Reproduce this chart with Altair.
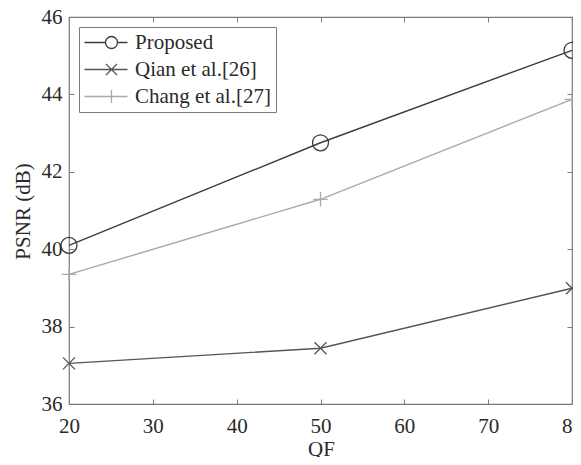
import altair as alt
import pandas as pd

qf = [20, 50, 80]
proposed = [40.10, 42.75, 45.14]
qian = [37.05, 37.44, 38.99]
chang = [39.35, 41.29, 43.87]
series_names = ["Proposed", "Qian et al.[26]", "Chang et al.[27]"]
line_colors = ["#3c3c3c", "#555555", "#a9a9a9"]
x_ticks = [20, 30, 40, 50, 60, 70, 80]
y_ticks = [36, 38, 40, 42, 44, 46]

rows = []
for name, vals in zip(series_names, [proposed, qian, chang]):
    for q, v in zip(qf, vals):
        rows.append({"QF": q, "PSNR": v, "series": name})
df = pd.DataFrame(rows)

FONT = "Liberation Serif"
FS = 21
FRAME = "#7a7a7a"
TXT = "#2a2a2a"

# marker shapes in the plot
marker_shapes = ["circle", "M-0.75,-0.75L0.75,0.75M-0.75,0.75L0.75,-0.75", "M-0.9,0L0.9,0M0,-0.9L0,0.9"]
# legend symbols (line + marker), only M/L/A commands
leg_paths = [
    "M-5.4,0L-1.2,0A1.2,1.2 0 1,1 1.2,0A1.2,1.2 0 1,1 -1.2,0M1.2,0L3.2,0",
    "M-5.4,0L3.2,0M-1.1,-1.1L1.1,1.1M-1.1,1.1L1.1,-1.1",
    "M-5.4,0L3.2,0M0,-1.3L0,1.3",
]
sig = "datum.value === '%s' ? '%s' : (datum.value === '%s' ? '%s' : '%s')" % (
    series_names[0], leg_paths[0], series_names[1], leg_paths[1], leg_paths[2])

xscale = alt.Scale(domain=[20, 80], nice=False, zero=False)
yscale = alt.Scale(domain=[36, 46], nice=False, zero=False)

common = dict(tickSize=5, offset=-5, domain=False, grid=False, labelFlush=False,
              labelFont=FONT, labelFontSize=FS, labelColor=TXT,
              titleFont=FONT, titleFontSize=FS, titleColor=TXT, titleFontWeight="normal",
              tickColor=FRAME, tickWidth=1)

lines = alt.Chart(df).mark_line(strokeWidth=1.4).encode(
    x=alt.X("QF:Q", scale=xscale, axis=alt.Axis(
        orient="bottom", values=x_ticks, labelPadding=11, title="QF",
        titleAlign="center", titleBaseline="alphabetic", titleX=252, titleY=56, **common)),
    y=alt.Y("PSNR:Q", scale=yscale, axis=alt.Axis(
        orient="left", values=y_ticks, labelPadding=7, title="PSNR (dB)",
        titleAngle=270, titleAlign="center", titleBaseline="middle", titleX=-51, titleY=194,
        **common)),
    color=alt.Color("series:N", scale=alt.Scale(domain=series_names, range=line_colors),
                    sort=series_names,
                    legend=alt.Legend(
                        orient="none", legendX=10, legendY=10, title=None,
                        strokeColor=FRAME, fillColor="white", padding=5,
                        labelFont=FONT, labelFontSize=FS, labelColor=TXT,
                        symbolSize=100, symbolStrokeWidth=1.3, symbolOffset=17,
                        labelOffset=13, rowPadding=5,
                        symbolFillColor="transparent",
                        symbolType=alt.ExprRef(expr=sig))),
    order=alt.Order("QF:Q"),
)

point_layers = []
for i, name in enumerate(series_names):
    if i == 0:
        xax = alt.Axis(orient="top", values=x_ticks, labels=False, title=None, **common)
        yax = alt.Axis(orient="right", values=y_ticks, labels=False, title=None, **common)
    else:
        xax = None
        yax = None
    p = alt.Chart(df).transform_filter(alt.datum.series == name).mark_point(
        filled=False, size=256, strokeWidth=1.3, opacity=1,
        shape=marker_shapes[i], stroke=line_colors[i]).encode(
        x=alt.X("QF:Q", scale=xscale, axis=xax),
        y=alt.Y("PSNR:Q", scale=yscale, axis=yax),
    )
    point_layers.append(p)

chart = alt.layer(lines, *point_layers).resolve_axis(x="independent", y="independent").properties(
    width=503, height=387,
    padding={"left": 61, "top": 9, "right": 1, "bottom": 53},
    autosize=alt.AutoSizeParams(type="none"),
).configure_view(stroke=FRAME, strokeWidth=1.2)

chart.save("out.html", embed_options={"renderer": "svg", "actions": False})
